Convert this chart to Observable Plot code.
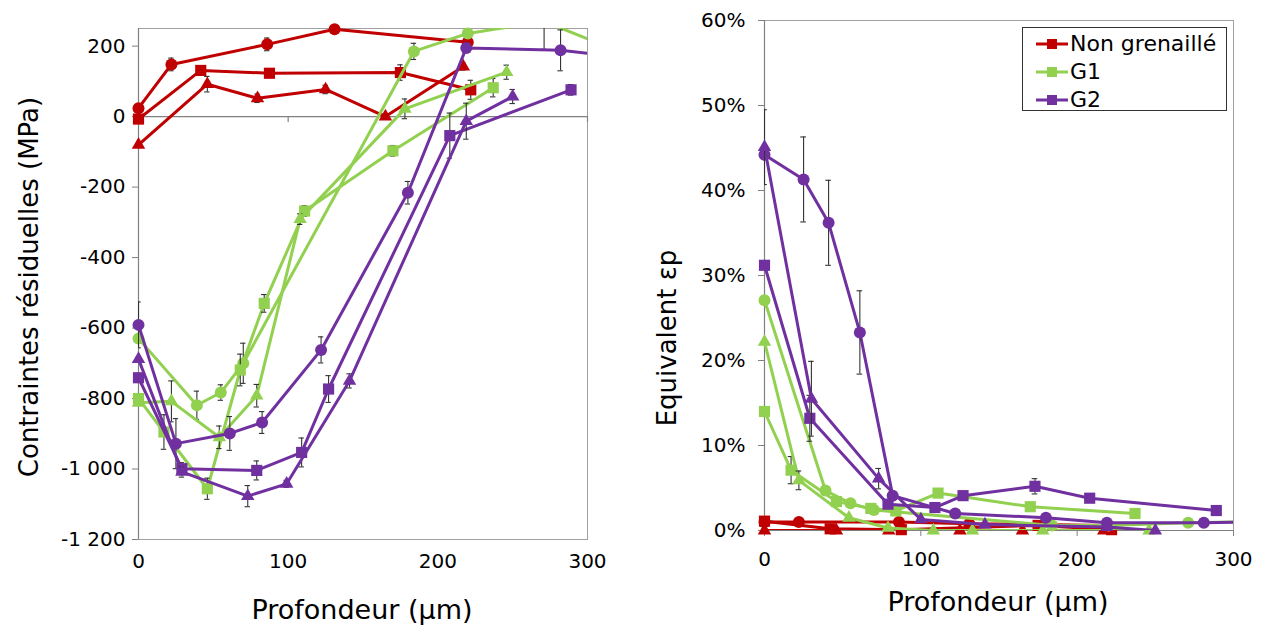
<!DOCTYPE html>
<html>
<head>
<meta charset="utf-8">
<script src="https://cdn.jsdelivr.net/npm/d3@7"></script>
<script src="https://cdn.jsdelivr.net/npm/@observablehq/plot@0.6"></script>
<style>
  html, body { margin: 0; padding: 0; background: #fff; overflow: hidden; }
  #wrap { position: relative; width: 1262px; height: 630px; font-family: "DejaVu Sans", Verdana, sans-serif; color: #000; }
  #left { position: absolute; left: 0; top: 0; }
  #right { position: absolute; left: 620px; top: 0; }
  .ttl { position: absolute; white-space: nowrap; line-height: 1; font-size: 26px; }
  .ttl.x { font-size: 27px; }
  #legend { position: absolute; left: 1022px; top: 27px; width: 205px; height: 84px; border: 1px solid #333; background: #fff; box-sizing: border-box; }
  .lrow { position: absolute; left: 0; height: 22px; }
  .lrow svg { position: absolute; left: 13px; top: 5px; }
  .lrow span { position: absolute; left: 47px; top: 0; font-size: 22px; line-height: 22px; white-space: nowrap; }
</style>
</head>
<body>
<div id="wrap">
  <div id="left"></div>
  <div id="right"></div>
  <div id="legend"></div>
</div>
<script>
// ---------- DATA ----------
// Depth tick labels (µm)
const depthTicks = [0, 100, 200, 300];
const stressTicks = [200, 0, -200, -400, -600, -800, -1000, -1200];
const strainTicks = [0, 10, 20, 30, 40, 50, 60];

const groups = ["Non grenaillé", "G1", "G2"];
const groupColors = ["#C00000", "#92D050", "#7030A0"];

// Residual stress (MPa): [depth µm, value, error]
const stressNGcircle   = [[0,24,0],[22,148,18],[86,205,18],[131,248,8],[220,211,10]];
const stressNGsquare   = [[0,-7,0],[41.6,131,10],[87.5,123,10],[175,125,22],[222,76,27]];
const stressNGtriangle = [[0,-80,0],[46,92,22],[79.5,52,12],[125,77,12],[165,0,8],[217,142,10]];
const stressG1circle   = [[0,-630,0],[39,-819,40],[55,-783,22],[70,-700,57],[184,185,23],[220,236,10],[271,270,79],[330,170,0]];
const stressG1square   = [[0,-800,0],[17,-895,49],[46,-1056,30],[68,-719,45],[84,-530,25],[111,-268,15],[170,-97,15],[237,82,26]];
const stressG1triangle = [[0,-812,0],[22,-808,58],[54,-910,32],[79,-792,32],[108,-291,15],[178,22,28],[246,126,20]];
const stressG2circle   = [[0,-591,65],[25,-928,71],[61,-899,48],[82.6,-868,31],[122,-662,37],[180,-216,32],[219,195,10],[282,188,58],[330,165,0]];
const stressG2square   = [[0,-741,0],[29,-999,17],[79,-1004,27],[109,-953,41],[127,-773,38],[208,-54,64],[289,76,15]];
const stressG2triangle = [[0,-688,0],[29,-1008,15],[73,-1077,30],[99,-1042,10],[141,-750,20],[219,-13,51],[250,57,20]];

// Equivalent plastic strain (%): [depth µm, value, error]
const strainNGcircle   = [[0,1.0,0],[22,1.0,0],[86,1.0,0],[131,0.8,0],[220,0.6,0]];
const strainNGsquare   = [[0,1.1,0],[42,0.2,0],[87.5,0.1,0],[175,0.6,0],[222,0.1,0]];
const strainNGtriangle = [[0,0,0],[46,0,0],[79.5,0,0],[125,0,0],[165,0,0],[217,0,0]];
const strainG1circle   = [[0,27.1,0],[39,4.7,0.5],[55,3.2,0],[70,2.4,0],[184,0.6,0],[220,0.6,0],[271,0.9,0],[330,1.1,0]];
const strainG1square   = [[0,14.0,0],[17,7.1,1.6],[46,3.4,0],[68,2.6,0],[84,2.3,0],[111,4.4,0.5],[170,2.8,0],[237,2.0,0]];
const strainG1triangle = [[0,22.2,0],[22,5.9,1.1],[54,1.5,0],[79,0.3,0],[108,0,0],[133,0,0],[178,0,0],[246,0,0]];
const strainG2circle   = [[0,44.2,0],[25,41.3,5],[41,36.2,5],[61,23.3,4.9],[82,4.1,0],[122,2.0,0],[180,1.5,0],[219,0.9,0],[281,0.9,0],[330,1.1,0]];
const strainG2square   = [[0,31.2,0],[29,13.2,2.7],[79,3.1,0],[109,2.7,0],[127,4.1,0.5],[173,5.2,0.9],[208,3.8,0.3],[289,2.35,0]];
const strainG2triangle = [[0,45.1,4.4],[30,15.5,4.4],[73,6.1,1.2],[100,1.3,0],[141,0.7,0],[219,0.4,0],[250,0,0]];

// ---------- HELPERS ----------
const shapeR = {circle: 6, square: 6.3, triangle: 5};
function series(gi, shape, pts) {
  return {color: groupColors[gi], shape, rows: pts.map(([x, y, e]) => ({x, y, e}))};
}
function frFormat(d) {
  return (d < 0 ? "-" : "") + String(Math.abs(d)).replace(/\B(?=(\d{3})+(?!\d))/g, " ");
}
function seriesMarks(list, xmax, ymax, cap) {
  const marks = [];
  for (const s of list) {
    marks.push(Plot.line(s.rows, {x: "x", y: "y", stroke: s.color, strokeWidth: 3, clip: true}));
    const eb = s.rows.filter(d => d.e > 0);
    const bar = {stroke: "#333", strokeWidth: 1.1, clip: true};
    marks.push(Plot.ruleX(eb, {x: "x", y1: d => d.y - d.e, y2: d => d.y + d.e, ...bar}));
    marks.push(Plot.ruleY(eb, {y: d => d.y - d.e, x1: d => d.x - cap, x2: d => d.x + cap, ...bar}));
    marks.push(Plot.ruleY(eb, {y: d => d.y + d.e, x1: d => d.x - cap, x2: d => d.x + cap, ...bar}));
    marks.push(Plot.dot(s.rows.filter(d => d.x <= xmax && d.y <= ymax),
      {x: "x", y: "y", fill: s.color, symbol: s.shape, r: shapeR[s.shape]}));
  }
  return marks;
}
const style = {fontFamily: "DejaVu Sans, Verdana, sans-serif", fontSize: "20px", color: "#000", background: "transparent", overflow: "visible"};

// ---------- LEFT PANEL ----------
const stressSeries = [
  series(0, "circle", stressNGcircle), series(0, "square", stressNGsquare), series(0, "triangle", stressNGtriangle),
  series(1, "circle", stressG1circle), series(1, "square", stressG1square), series(1, "triangle", stressG1triangle),
  series(2, "circle", stressG2circle), series(2, "square", stressG2square), series(2, "triangle", stressG2triangle)
];
const left = Plot.plot({
  width: 620, height: 630,
  marginLeft: 138, marginRight: 33, marginTop: 28, marginBottom: 91,
  x: {domain: [0, 300], label: null},
  y: {domain: [-1200, 250], label: null},
  style,
  marks: [
    Plot.frame({stroke: "#a0a0a0"}),
    Plot.ruleY([0], {stroke: "#808080", strokeWidth: 1.2}),
    Plot.ruleX([0], {stroke: "#808080", strokeWidth: 1.2}),
    Plot.ruleX(depthTicks, {x: d => d, y1: 0, y2: -17, stroke: "#808080", strokeWidth: 1.2}),
    Plot.axisY(stressTicks, {tickSize: 6, tickPadding: 7, tickFormat: frFormat, stroke: "#808080", label: null}),
    Plot.axisX(depthTicks, {tickSize: 0, tickPadding: 14, label: null}),
    ...seriesMarks(stressSeries, 300, 255, 1.8)
  ]
});
document.getElementById("left").appendChild(left);

// ---------- RIGHT PANEL ----------
const strainSeries = [
  series(0, "circle", strainNGcircle), series(0, "square", strainNGsquare), series(0, "triangle", strainNGtriangle),
  series(1, "circle", strainG1circle), series(1, "square", strainG1square), series(1, "triangle", strainG1triangle),
  series(2, "circle", strainG2circle), series(2, "square", strainG2square), series(2, "triangle", strainG2triangle)
];
const right = Plot.plot({
  width: 642, height: 630,
  marginLeft: 144, marginRight: 29, marginTop: 20, marginBottom: 100,
  x: {domain: [0, 300], label: null},
  y: {domain: [0, 60], label: null},
  style,
  marks: [
    Plot.frame({stroke: "#a0a0a0"}),
    Plot.ruleY([0], {stroke: "#808080", strokeWidth: 1.2}),
    Plot.ruleX([0], {stroke: "#808080", strokeWidth: 1.2}),
    Plot.axisY(strainTicks, {tickSize: 6, tickPadding: 13, tickFormat: d => d + "%", stroke: "#808080", label: null}),
    Plot.axisX(depthTicks, {tickSize: 6, tickPadding: 15, stroke: "#808080", label: null}),
    ...seriesMarks(strainSeries, 300, 60, 1.8)
  ]
});
document.getElementById("right").appendChild(right);

// ---------- TITLES ----------
const wrap = document.getElementById("wrap");
function title(text, cx, cy, rot, cls) {
  const d = document.createElement("div");
  d.className = "ttl" + (cls ? " " + cls : "");
  d.textContent = text;
  d.style.left = cx + "px";
  d.style.top = cy + "px";
  d.style.transform = `translate(-50%,-50%) rotate(${rot}deg)`;
  wrap.appendChild(d);
}
title("Contraintes résiduelles (MPa)", 29, 287, -90);
title("Profondeur (µm)", 362, 609, 0, "x");
title("Equivalent εp", 667, 338, -90);
title("Profondeur (µm)", 998, 601, 0, "x");

// ---------- LEGEND ----------
const legend = document.getElementById("legend");
groups.forEach((g, i) => {
  const row = document.createElement("div");
  row.className = "lrow";
  row.style.top = (16 + i * 27.8 - 11) + "px";
  row.style.width = "100%";
  const svg = d3.create("svg").attr("width", 34).attr("height", 12);
  svg.append("line").attr("x1", 0).attr("x2", 32).attr("y1", 6).attr("y2", 6)
    .attr("stroke", groupColors[i]).attr("stroke-width", 3);
  svg.append("rect").attr("x", 11).attr("y", 1).attr("width", 10).attr("height", 10).attr("fill", groupColors[i]);
  row.appendChild(svg.node());
  const sp = document.createElement("span");
  sp.textContent = g;
  row.appendChild(sp);
  legend.appendChild(row);
});
</script>
</body>
</html>
